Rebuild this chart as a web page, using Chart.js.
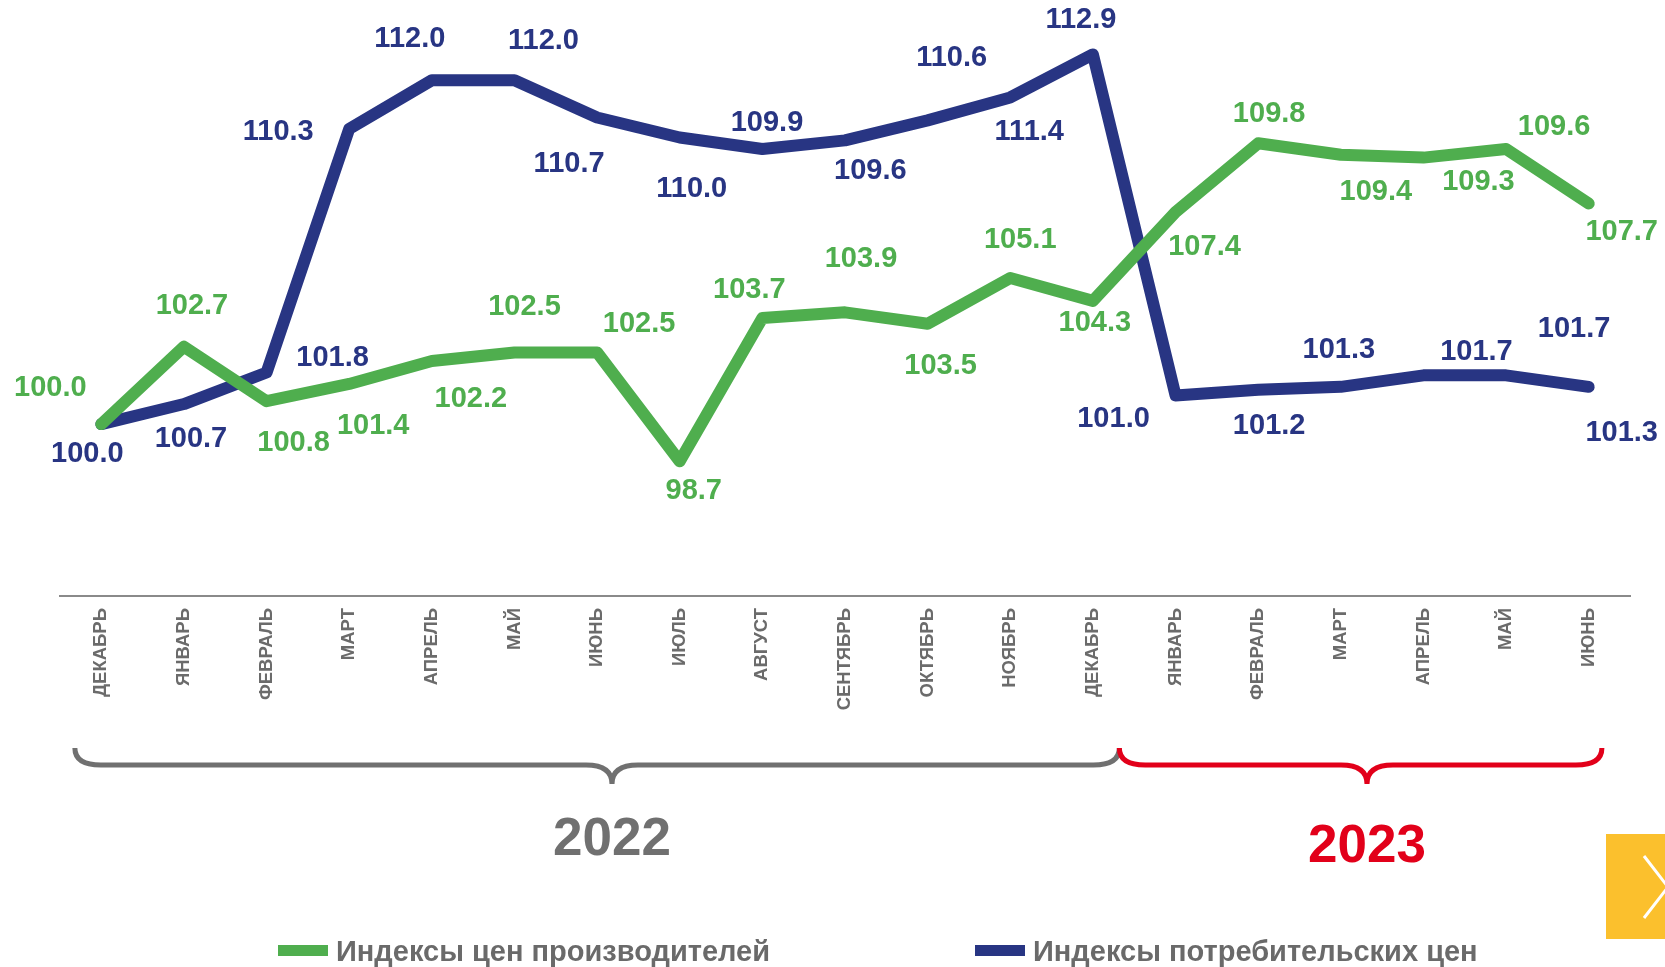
<!DOCTYPE html>
<html>
<head>
<meta charset="utf-8">
<script src="https://cdn.jsdelivr.net/npm/chart.js@4.4.1/dist/chart.umd.min.js"></script>
<style>
  html, body { margin: 0; padding: 0; background: #ffffff; }
  #wrap { position: relative; width: 1665px; height: 967px; overflow: hidden; }
  #c { position: absolute; left: 0; top: 0; }
  #nav { position: absolute; left: 1606px; top: 834px; width: 59px; height: 105px; background: #fbc02d; }
</style>
</head>
<body>
<div id="wrap">
  <canvas id="c" width="1665" height="967"></canvas>
  <div id="nav"><svg width="59" height="105"><polyline points="38,22 62,53 38,84" fill="none" stroke="#ffffff" stroke-width="3"/></svg></div>
</div>
<script>
// ---- data ----
const months = ['ДЕКАБРЬ','ЯНВАРЬ','ФЕВРАЛЬ','МАРТ','АПРЕЛЬ','МАЙ','ИЮНЬ','ИЮЛЬ','АВГУСТ','СЕНТЯБРЬ','ОКТЯБРЬ','НОЯБРЬ','ДЕКАБРЬ','ЯНВАРЬ','ФЕВРАЛЬ','МАРТ','АПРЕЛЬ','МАЙ','ИЮНЬ'];
const producerIndex = [100.0,102.7,100.8,101.4,102.2,102.5,102.5,98.7,103.7,103.9,103.5,105.1,104.3,107.4,109.8,109.4,109.3,109.6,107.7];
const consumerIndex = [100.0,100.7,101.8,110.3,112.0,112.0,110.7,110.0,109.6,109.9,110.6,111.4,112.9,101.0,101.2,101.3,101.7,101.7,101.3];
const seriesNames = ['Индексы цен производителей','Индексы потребительских цен'];
const years = ['2022','2023'];
const yearFirstIndex = [0, 13];
const yearLastIndex = [12, 18];

// ---- styling (label placement offsets in px) ----
const GREEN = '#4fae4e';
const BLUE = '#283583';
const producerLabelOffset = [[-51,-36],[8,-41],[27,42],[24,42],[39,38],[10,-45],[42,-28],[14,30],[-13,-28],[16,-53],[13,42],[10,-38],[2,22],[29,35],[11,-29],[35,37],[55,24],[48,-22],[33,29]];
const consumerLabelOffset = [[-14,30],[7,35],[66,-15],[-71,3],[-22,-41],[29,-39],[-28,47],[12,51],[108,22],[-78,-17],[24,-62],[19,35],[-12,-34],[-62,24],[11,36],[-2,-37],[53,-23],[68,-46],[33,46]];

const FONT = '"Liberation Sans", Arial, Helvetica, sans-serif';

const labelPlugin = {
  id: 'valueLabels',
  afterDatasetsDraw(chart) {
    const ctx = chart.ctx;
    ctx.save();
    ctx.font = 'bold 29px ' + FONT;
    ctx.textAlign = 'center';
    ctx.textBaseline = 'middle';
    chart.data.datasets.forEach((ds, di) => {
      const meta = chart.getDatasetMeta(di);
      const offs = ds.labelOffsets;
      ctx.fillStyle = ds.borderColor;
      meta.data.forEach((pt, i) => {
        const o = offs[i];
        ctx.fillText(ds.data[i].toFixed(1), pt.x + o[0], pt.y + o[1]);
      });
    });
    ctx.restore();
  }
};

function drawBrace(ctx, x1, x2, xc, y, up, down, r) {
  ctx.beginPath();
  ctx.moveTo(x1, y - up);
  ctx.quadraticCurveTo(x1, y, x1 + r, y);
  ctx.lineTo(xc - r, y);
  ctx.quadraticCurveTo(xc, y, xc, y + down);
  ctx.moveTo(xc, y + down);
  ctx.quadraticCurveTo(xc, y, xc + r, y);
  ctx.lineTo(x2 - r, y);
  ctx.quadraticCurveTo(x2, y, x2, y - up);
  ctx.stroke();
}

const decorPlugin = {
  id: 'decor',
  afterDraw(chart) {
    const ctx = chart.ctx;
    const xs = chart.scales.x;
    const step = xs.getPixelForValue(1) - xs.getPixelForValue(0);
    ctx.save();
    // year braces
    const yearColors = ['#707070', '#e2001a'];
    const leftEdge = [xs.getPixelForValue(yearFirstIndex[0]) - 0.32 * step, xs.getPixelForValue(yearFirstIndex[1]) - 0.68 * step];
    const rightEdge = [xs.getPixelForValue(yearLastIndex[0]) + 0.32 * step, xs.getPixelForValue(yearLastIndex[1]) + 0.16 * step];
    const centers = [612, 1367];
    const textY = [840, 847];
    ctx.lineWidth = 5;
    ctx.lineCap = 'butt';
    years.forEach((yr, k) => {
      ctx.strokeStyle = yearColors[k];
      drawBrace(ctx, leftEdge[k], rightEdge[k], centers[k], 765, 17, 19, 26);
      ctx.fillStyle = yearColors[k];
      ctx.font = 'bold 53px ' + FONT;
      ctx.textAlign = 'center';
      ctx.textBaseline = 'middle';
      ctx.fillText(yr, centers[k], textY[k]);
    });
    // legend
    const legendBoxX = [278, 975];
    ctx.font = 'bold 29px ' + FONT;
    ctx.textAlign = 'left';
    ctx.textBaseline = 'middle';
    chart.data.datasets.forEach((ds, di) => {
      ctx.fillStyle = ds.borderColor;
      ctx.fillRect(legendBoxX[di], 945, 50, 11);
      ctx.fillStyle = '#6a6a6a';
      ctx.fillText(ds.label, legendBoxX[di] + 58, 953);
    });
    ctx.restore();
  }
};

new Chart(document.getElementById('c'), {
  type: 'line',
  data: {
    labels: months,
    datasets: [
      { label: seriesNames[0], data: producerIndex, borderColor: GREEN, backgroundColor: GREEN, borderWidth: 12, pointRadius: 0, tension: 0, borderCapStyle: 'round', borderJoinStyle: 'round', labelOffsets: producerLabelOffset },
      { label: seriesNames[1], data: consumerIndex, borderColor: BLUE, backgroundColor: BLUE, borderWidth: 12, pointRadius: 0, tension: 0, borderCapStyle: 'round', borderJoinStyle: 'round', labelOffsets: consumerLabelOffset }
    ]
  },
  options: {
    responsive: false,
    animation: false,
    layout: { padding: { left: 60, right: 35, top: 0, bottom: 0 } },
    plugins: { legend: { display: false }, tooltip: { enabled: false } },
    scales: {
      x: {
        offset: true,
        grid: { display: false, drawTicks: false },
        border: { display: true, color: '#8a8a8a', width: 2 },
        ticks: { color: '#6b6b6b', font: { family: FONT, size: 18.5, weight: 'bold' }, maxRotation: 90, minRotation: 90, padding: 12, autoSkip: false },
        afterFit(scale) { scale.height = 371; }
      },
      y: { display: false, min: 94, max: 114.8 }
    }
  },
  plugins: [labelPlugin, decorPlugin]
});
</script>
</body>
</html>
